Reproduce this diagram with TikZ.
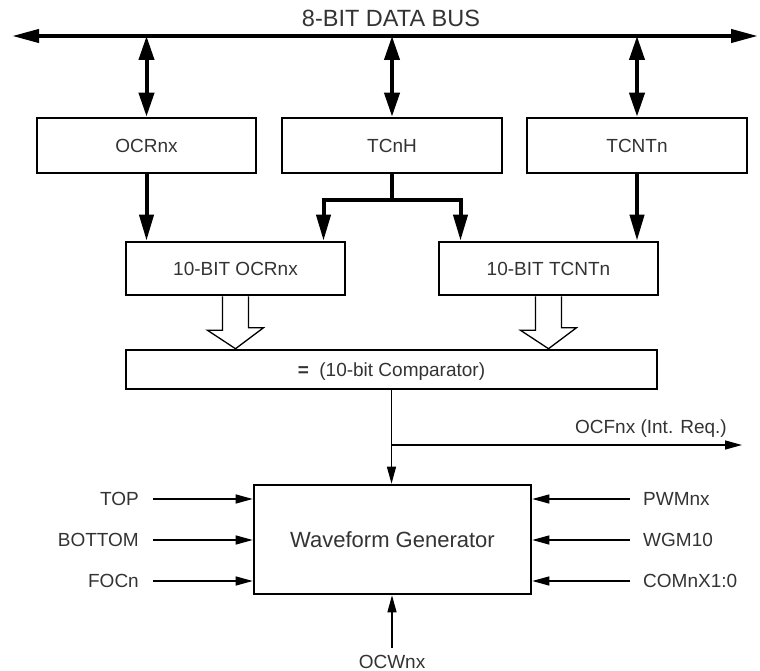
\documentclass[tikz,border=0pt]{standalone}
\usepackage{fontspec}
\setmainfont{Liberation Sans}
\usetikzlibrary{arrows.meta, positioning}

\definecolor{txt}{HTML}{333333}
\tikzset{
  box/.style={draw, line width=2.6pt, inner sep=0pt, text=txt},
  lbl/.style={inner sep=0pt, text=txt},
  busline/.style={line width=4pt},
  dblarrow/.style={line width=4pt, {Triangle[length=24pt, width=15pt]}-{Triangle[length=24pt, width=15pt]}},
  downarrow/.style={line width=4pt, -{Triangle[length=26pt, width=14pt]}},
  thinarrow/.style={line width=1.3pt, -{Triangle[length=17pt, width=9pt]}},
  hollow/.style={line width=1.3pt, line join=miter}
}

\begin{document}
\begin{tikzpicture}[x=1pt, y=-1pt, font=\fontsize{19}{22}\selectfont]
  \useasboundingbox (0,0) rectangle (760,671);

  % Data bus
  \coordinate (busL) at (12,36);
  \coordinate (busR) at (758,36);
  \draw[line width=4pt, {Triangle[length=27pt, width=13pt]}-{Triangle[length=27pt, width=13pt]}] (busL) -- (busR);
  \node[lbl, anchor=base, font=\fontsize{23.5}{26}\selectfont] (buslbl) at (391,27) {8-BIT DATA BUS};

  % Registers
  \node[box, minimum width=219, minimum height=55] (ocr)  at (146.5,145.5) {OCRnx};
  \node[box, minimum width=220, minimum height=55] (tcnh) at (392,145.5)   {TCnH};
  \node[box, minimum width=220, minimum height=55] (tcnt) at (637,145.5)   {TCNTn};

  \node[box, minimum width=219, minimum height=53] (ocr10)  at (235.5,268.5) {10-BIT OCRnx};
  \node[box, minimum width=219, minimum height=53] (tcnt10) at (548.5,268.5) {10-BIT TCNTn};

  \node[box, minimum width=531, minimum height=39, text depth=0pt] (cmp) at (391.5,369.5)
    {\textbf{=}\hspace{0.55em}(10-bit Comparator)};
  \node[box, minimum width=277, minimum height=109, font=\fontsize{22}{26}\selectfont] (wg) at (392.5,539.5)
    {Waveform Generator};

  % Bus access
  \foreach \r in {ocr, tcnh, tcnt}
    \draw[dblarrow] (\r.north |- busL) -- (\r.north);

  % Register to 10-bit buffers
  \draw[downarrow] (ocr.south) -- (ocr.south |- ocr10.north);
  \draw[downarrow] (tcnt.south) -- (tcnt.south |- tcnt10.north);
  \coordinate (split) at (tcnh.south |- 0,200);
  \draw[busline] (tcnh.south) -- (split);
  \draw[downarrow] (split) -| ([xshift=88]ocr10.north);
  \draw[downarrow] (split) -| ([xshift=-88]tcnt10.north);

  % Wide (hollow) arrows into comparator
  \foreach \b in {ocr10, tcnt10}
    \draw[hollow] ([xshift=-13]\b.south) -- ++(0,34) -- ++(-15,0) -- (\b.south |- cmp.north)
      -- ++(28,-21) -- ++(-15,0) -- ([xshift=13]\b.south);

  % Compare match
  \coordinate (tap) at (cmp.south |- 0,445);
  \coordinate (ocfEnd) at (742,445);
  \draw[thinarrow] (cmp.south) -- (cmp.south |- wg.north);
  \draw[thinarrow] (tap) -- (ocfEnd);
  \node[lbl, anchor=base east] (ocf) at (727,433) {OCFnx (Int. Req.)};

  % Waveform generator inputs
  \foreach \t/\y [count=\i] in {TOP/499, BOTTOM/540, FOCn/581} {
    \node[lbl, anchor=east] (inL\i) at (139,\y) {\t};
    \draw[thinarrow] ([xshift=14]inL\i.east) -- (inL\i.east -| wg.west);
  }
  \foreach \t/\y [count=\i] in {PWMnx/499, WGM10/540, COMnX1:0/581} {
    \node[lbl, anchor=west] (inR\i) at (643,\y) {\t};
    \draw[thinarrow] ([xshift=-13]inR\i.west) -- (inR\i.west -| wg.east);
  }
  \node[lbl, anchor=north] (ocw) at (392,655) {OCWnx};
  \draw[thinarrow] ([yshift=7]ocw.north) -- (ocw.north |- wg.south);
\end{tikzpicture}
\end{document}
